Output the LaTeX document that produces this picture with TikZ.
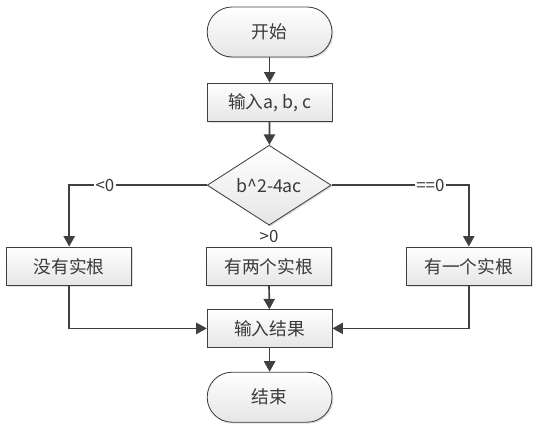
\documentclass[tikz,border=0pt]{standalone}
\usepackage{fontspec}
\setmainfont{Noto Sans CJK SC}
\usetikzlibrary{arrows.meta,shapes.geometric,shadows}
\definecolor{linegray}{HTML}{404040}
\definecolor{textgray}{HTML}{3A3A3A}

\begin{document}
\begin{tikzpicture}[>={Triangle[length=7.5pt,width=8pt]},
	every node/.style={font=\fontsize{12.6}{14}\selectfont,text=textgray},
	box/.style={draw=linegray,line width=0.6pt,top color=white,bottom color=black!10,
		drop shadow={opacity=0.25,shadow xshift=1pt,shadow yshift=-1pt},
		minimum width=3.12cm,minimum height=0.97cm,inner sep=0pt},
	terminal/.style={box,rounded corners=0.62cm,minimum height=1.25cm},
	judgebox/.style={box,diamond,minimum width=3.1cm,minimum height=1.88cm},
	flow/.style={->,draw=linegray,line width=1.2pt},
	cond/.style={fill=white,inner sep=1pt,font=\fontsize{12}{13}\selectfont}
	]
	\useasboundingbox (0,0) rectangle (13.6,-10.8);

	\node[terminal] (start) at (6.74,-0.8) {开始};
	\node[box] (input) at (6.74,-2.56) {输入a, b, c};
	\node[judgebox] (judge) at (6.73,-4.63) {b\^{}2-4ac};

	\node[box] (none) at (1.73,-6.66) {没有实根};
	\node[box] (two) at (6.72,-6.66) {有两个实根};
	\node[box] (one) at (11.72,-6.66) {有一个实根};

	\node[box,minimum height=0.93cm] (result) at (6.74,-8.21) {输入结果};
	\node[terminal] (stop) at (6.74,-9.93) {结束};

	\draw[flow] (start) -- (input);
	\draw[flow] (input) -- (judge);
	\draw[flow] (judge.west) -| node[cond,pos=0.37]{<0} (none.north);
	\draw[flow] (judge.east) -| node[cond,pos=0.36]{==0} (one.north);
	\draw[flow] (judge.south) -- node[cond,inner sep=2.5pt]{>0} (two.north);
	\draw[flow] (none.south) |- (result.west);
	\draw[flow] (two) -- (result);
	\draw[flow] (one.south) |- (result.east);
	\draw[flow] (result) -- (stop);

\end{tikzpicture}
\end{document}
